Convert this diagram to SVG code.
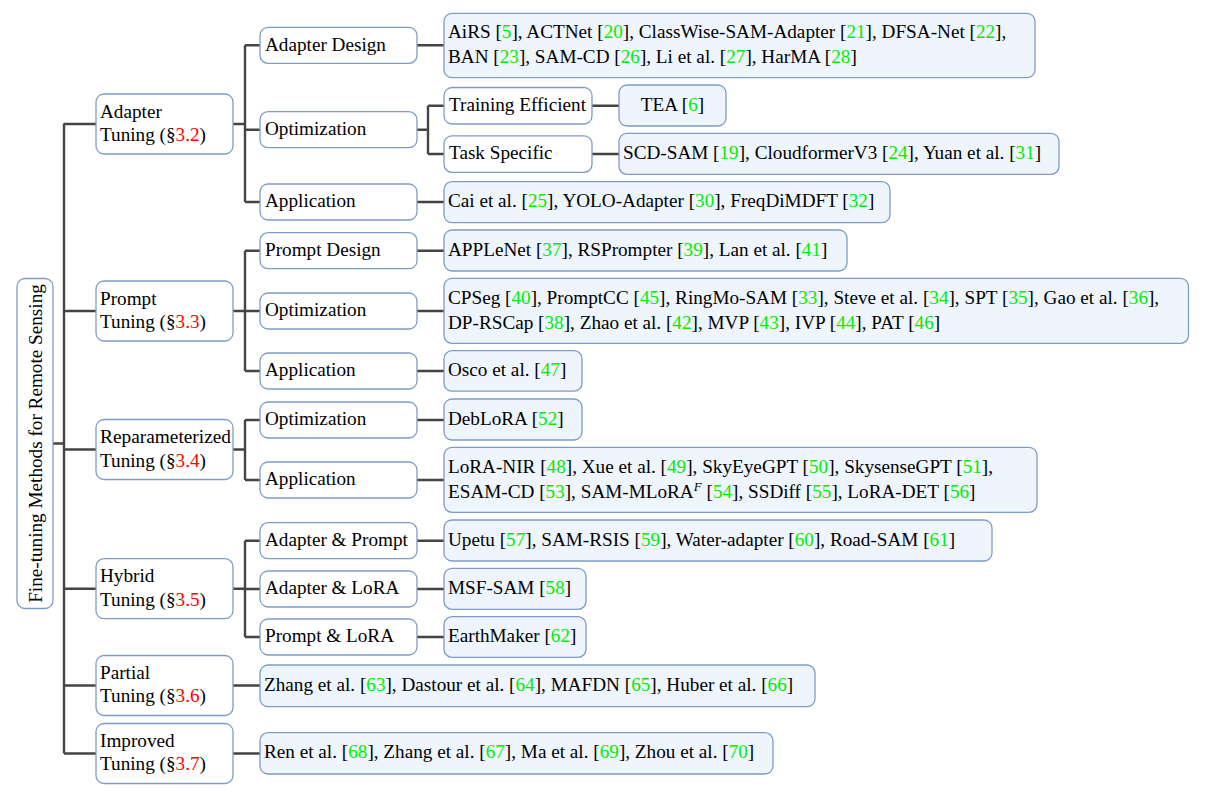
<svg xmlns="http://www.w3.org/2000/svg" width="1205" height="793" viewBox="0 0 1205 793">
<style>
text{font-family:"Liberation Serif","Times New Roman",serif;font-size:19.2px;fill:#000}
.g{fill:#00ee00}
.r{fill:#ff0000}
.n{fill:#ffffff;stroke:#7f9cc6;stroke-width:1.3}
.l{fill:#eef5fd;stroke:#7f9cc6;stroke-width:1.3}
.c path{fill:none;stroke:#444;stroke-width:2.4}
</style>
<rect width="1205" height="793" fill="#fff"/>
<g class="c" id="connectors">
<path d="M53,443.5H64M64,123.5V753.5M64,124H96M64,311H96M64,449.5H96M64,588.7H96M64,685.5H96M64,753.5H96"/>
<path d="M233,124H245M245,45.3V202M245,45.3H260M245,129.7H260M245,202H260"/>
<path d="M417,45.3H444M417,129.7H428M428,105.7V154M428,105.7H444M428,154H444M592,105.7H619M592,154H619M417,202H444"/>
<path d="M233,311H245M245,250.7V371M245,250.7H260M245,311H260M245,371H260M417,250.7H444M417,311H444M417,371H444"/>
<path d="M233,449.5H245M245,420V480M245,420H260M245,480H260M417,420H444M417,480H444"/>
<path d="M233,588.7H245M245,540.7V637M245,540.7H260M245,589H260M245,637H260M417,540.7H444M417,589H444M417,637H444"/>
<path d="M233,685.5H260M233,753.5H260"/>
</g>
<g id="root"><rect class="n" x="17" y="278.5" width="36" height="330" rx="8"/><text transform="translate(41.5,443.5) rotate(-90)" text-anchor="middle">Fine-tuning Methods for Remote Sensing</text></g>
<g id="adapter-tuning"><rect class="n" x="96" y="94" width="137" height="60" rx="8"/><text x="100" y="117.5">Adapter</text><text x="100" y="141">Tuning (§<tspan class="r">3.2</tspan>)</text></g>
<g id="prompt-tuning"><rect class="n" x="96" y="281" width="137" height="60" rx="8"/><text x="100" y="304.5">Prompt</text><text x="100" y="328">Tuning (§<tspan class="r">3.3</tspan>)</text></g>
<g id="reparam-tuning"><rect class="n" x="96" y="419.5" width="137" height="60" rx="8"/><text x="100" y="443" textLength="131" lengthAdjust="spacingAndGlyphs">Reparameterized</text><text x="100" y="466.5">Tuning (§<tspan class="r">3.4</tspan>)</text></g>
<g id="hybrid-tuning"><rect class="n" x="96" y="558.7" width="137" height="60" rx="8"/><text x="100" y="582">Hybrid</text><text x="100" y="605.5">Tuning (§<tspan class="r">3.5</tspan>)</text></g>
<g id="partial-tuning"><rect class="n" x="96" y="655.5" width="137" height="60" rx="8"/><text x="100" y="678.5">Partial</text><text x="100" y="702">Tuning (§<tspan class="r">3.6</tspan>)</text></g>
<g id="improved-tuning"><rect class="n" x="96" y="723.5" width="137" height="60" rx="8"/><text x="100" y="746.5">Improved</text><text x="100" y="770">Tuning (§<tspan class="r">3.7</tspan>)</text></g>
<g id="adapter-design"><rect class="n" x="260" y="27.3" width="157" height="36" rx="8"/><text x="265" y="50.5">Adapter Design</text></g>
<g id="adapter-optimization"><rect class="n" x="260" y="111.7" width="157" height="36" rx="8"/><text x="265" y="134.9">Optimization</text></g>
<g id="adapter-application"><rect class="n" x="260" y="184" width="157" height="36" rx="8"/><text x="265" y="207.2">Application</text></g>
<g id="prompt-design"><rect class="n" x="260" y="232.7" width="157" height="36" rx="8"/><text x="265" y="255.9">Prompt Design</text></g>
<g id="prompt-optimization"><rect class="n" x="260" y="293" width="157" height="36" rx="8"/><text x="265" y="316.2">Optimization</text></g>
<g id="prompt-application"><rect class="n" x="260" y="353" width="157" height="36" rx="8"/><text x="265" y="376.2">Application</text></g>
<g id="reparam-optimization"><rect class="n" x="260" y="402" width="157" height="36" rx="8"/><text x="265" y="425.2">Optimization</text></g>
<g id="reparam-application"><rect class="n" x="260" y="462" width="157" height="36" rx="8"/><text x="265" y="485.2">Application</text></g>
<g id="adapter-prompt"><rect class="n" x="260" y="522.7" width="157" height="36" rx="8"/><text x="265" y="545.9">Adapter &amp; Prompt</text></g>
<g id="adapter-lora"><rect class="n" x="260" y="571" width="157" height="36" rx="8"/><text x="265" y="594.2">Adapter &amp; LoRA</text></g>
<g id="prompt-lora"><rect class="n" x="260" y="619" width="157" height="36" rx="8"/><text x="265" y="642.2">Prompt &amp; LoRA</text></g>
<g id="training-efficient"><rect class="n" x="444" y="87.5" width="148" height="36.5" rx="8"/><text x="449" y="110.9">Training Efficient</text></g>
<g id="task-specific"><rect class="n" x="444" y="135.8" width="148" height="36.5" rx="8"/><text x="449" y="159.2">Task Specific</text></g>
<g id="leaf-adapter-design"><rect class="l" x="444" y="13.3" width="591" height="64.4" rx="8"/><text x="448" y="38.3">AiRS [<tspan class="g">5</tspan>], ACTNet [<tspan class="g">20</tspan>], ClassWise-SAM-Adapter [<tspan class="g">21</tspan>], DFSA-Net [<tspan class="g">22</tspan>],</text><text x="448" y="62.8">BAN [<tspan class="g">23</tspan>], SAM-CD [<tspan class="g">26</tspan>], Li et al. [<tspan class="g">27</tspan>], HarMA [<tspan class="g">28</tspan>]</text></g>
<g id="leaf-tea"><rect class="l" x="619" y="85" width="107" height="41" rx="8"/><text x="672.5" y="110.5" text-anchor="middle">TEA [<tspan class="g">6</tspan>]</text></g>
<g id="leaf-task-specific"><rect class="l" x="619" y="133.3" width="440" height="41" rx="8"/><text x="623" y="158.6">SCD-SAM [<tspan class="g">19</tspan>], CloudformerV3 [<tspan class="g">24</tspan>], Yuan et al. [<tspan class="g">31</tspan>]</text></g>
<g id="leaf-adapter-application"><rect class="l" x="444" y="181.7" width="446" height="41" rx="8"/><text x="448" y="207.2">Cai et al. [<tspan class="g">25</tspan>], YOLO-Adapter [<tspan class="g">30</tspan>], FreqDiMDFT [<tspan class="g">32</tspan>]</text></g>
<g id="leaf-prompt-design"><rect class="l" x="444" y="230" width="403" height="41" rx="8"/><text x="448" y="255.7">APPLeNet [<tspan class="g">37</tspan>], RSPrompter [<tspan class="g">39</tspan>], Lan et al. [<tspan class="g">41</tspan>]</text></g>
<g id="leaf-prompt-optimization"><rect class="l" x="444" y="278.3" width="744.5" height="65" rx="8"/><text x="448" y="304.3">CPSeg [<tspan class="g">40</tspan>], PromptCC [<tspan class="g">45</tspan>], RingMo-SAM [<tspan class="g">33</tspan>], Steve et al. [<tspan class="g">34</tspan>], SPT [<tspan class="g">35</tspan>], Gao et al. [<tspan class="g">36</tspan>],</text><text x="448" y="328.8">DP-RSCap [<tspan class="g">38</tspan>], Zhao et al. [<tspan class="g">42</tspan>], MVP [<tspan class="g">43</tspan>], IVP [<tspan class="g">44</tspan>], PAT [<tspan class="g">46</tspan>]</text></g>
<g id="leaf-prompt-application"><rect class="l" x="444" y="350.7" width="138" height="40.5" rx="8"/><text x="448" y="376">Osco et al. [<tspan class="g">47</tspan>]</text></g>
<g id="leaf-reparam-optimization"><rect class="l" x="444" y="399" width="138" height="41" rx="8"/><text x="448" y="424.5">DebLoRA [<tspan class="g">52</tspan>]</text></g>
<g id="leaf-reparam-application"><rect class="l" x="444" y="447.3" width="593" height="65" rx="8"/><text x="448" y="473.3">LoRA-NIR [<tspan class="g">48</tspan>], Xue et al. [<tspan class="g">49</tspan>], SkyEyeGPT [<tspan class="g">50</tspan>], SkysenseGPT [<tspan class="g">51</tspan>],</text><text x="448" y="497.8">ESAM-CD [<tspan class="g">53</tspan>], SAM-MLoRA<tspan dy="-7" style="font-size:13px;font-style:italic">F</tspan><tspan dy="7"> [</tspan><tspan class="g">54</tspan>], SSDiff [<tspan class="g">55</tspan>], LoRA-DET [<tspan class="g">56</tspan>]</text></g>
<g id="leaf-adapter-prompt"><rect class="l" x="444" y="520" width="548" height="41" rx="8"/><text x="448" y="545.5">Upetu [<tspan class="g">57</tspan>], SAM-RSIS [<tspan class="g">59</tspan>], Water-adapter [<tspan class="g">60</tspan>], Road-SAM [<tspan class="g">61</tspan>]</text></g>
<g id="leaf-adapter-lora"><rect class="l" x="444" y="568.3" width="142" height="41" rx="8"/><text x="448" y="593.8">MSF-SAM [<tspan class="g">58</tspan>]</text></g>
<g id="leaf-prompt-lora"><rect class="l" x="444" y="616.7" width="142" height="40.6" rx="8"/><text x="448" y="642">EarthMaker [<tspan class="g">62</tspan>]</text></g>
<g id="leaf-partial"><rect class="l" x="260" y="665" width="555" height="41.7" rx="8"/><text x="264" y="690.8">Zhang et al. [<tspan class="g">63</tspan>], Dastour et al. [<tspan class="g">64</tspan>], MAFDN [<tspan class="g">65</tspan>], Huber et al. [<tspan class="g">66</tspan>]</text></g>
<g id="leaf-improved"><rect class="l" x="260" y="732.7" width="513" height="41.3" rx="8"/><text x="264" y="758.3">Ren et al. [<tspan class="g">68</tspan>], Zhang et al. [<tspan class="g">67</tspan>], Ma et al. [<tspan class="g">69</tspan>], Zhou et al. [<tspan class="g">70</tspan>]</text></g>
</svg>
